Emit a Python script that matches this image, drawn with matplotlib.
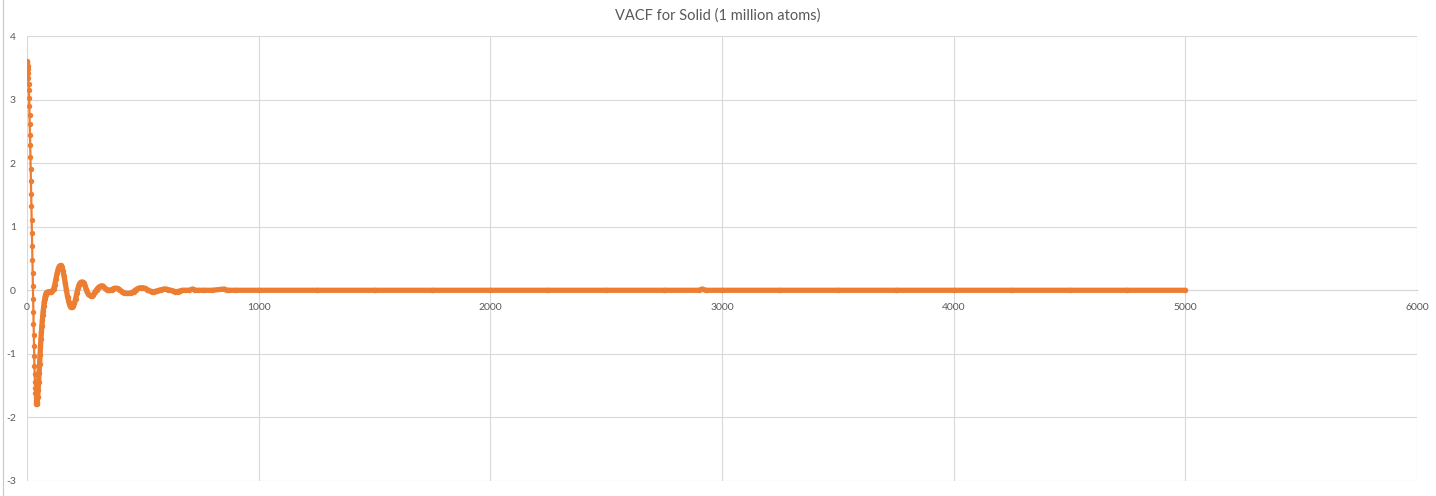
import matplotlib
matplotlib.use("Agg")
import matplotlib.pyplot as plt
from matplotlib.lines import Line2D

plt.rcParams['font.family'] = ['Lato', 'DejaVu Sans']

title = "VACF for Solid (1 million atoms)"
x_ticks = [0, 1000, 2000, 3000, 4000, 5000, 6000]
y_ticks = [-3, -2, -1, 0, 1, 2, 3, 4]

# time lag (steps)
time_lag = [0, 1, 2, 3, 4, 5, 6, 7, 8, 9, 10, 11, 12, 13, 14, 15, 16, 17, 18, 19,
            20, 21, 22, 23, 24, 25, 26, 27, 28, 29, 30, 31, 32, 33, 34, 35, 36, 37, 38, 39,
            40, 41, 42, 43, 44, 46, 48, 50, 52, 54, 56, 58, 60, 62, 64, 66, 68, 70, 72, 74,
            76, 78, 80, 82, 84, 86, 88, 92, 96, 100, 105, 110, 115, 120, 125, 130, 135, 140,
            145, 150, 155, 160, 165, 170, 175, 180, 185, 190, 195, 200, 205, 210, 215, 220,
            225, 230, 235, 240, 245, 250, 255, 260, 265, 270, 275, 280, 285, 290, 295, 300,
            305, 310, 315, 320, 325, 330, 335, 340, 345, 350, 355, 360, 365, 370, 375, 380,
            385, 390, 395, 400, 410, 420, 430, 440, 450, 460, 470, 480, 490, 500, 510, 520,
            530, 540, 550, 560, 570, 580, 590, 600, 610, 620, 630, 640, 650, 660, 670, 680,
            700, 715, 726, 737, 760, 800, 852, 863, 874, 900, 1000, 1250, 1500, 1750, 2000,
            2250, 2500, 2750, 2900, 2915, 2930, 3000, 3250, 3500, 3750, 4000, 4250, 4500,
            4750, 5000]
# velocity autocorrelation function
vacf = [3.60, 3.59, 3.57, 3.53, 3.48, 3.42, 3.34, 3.25, 3.15, 3.03, 2.90, 2.76, 2.61, 2.45,
        2.28, 2.10, 1.91, 1.72, 1.52, 1.32, 1.11, 0.90, 0.69, 0.48, 0.27, 0.06, -0.14, -0.34,
        -0.53, -0.71, -0.88, -1.04, -1.19, -1.32, -1.44, -1.54, -1.62, -1.68, -1.73, -1.76,
        -1.78, -1.79, -1.79, -1.78, -1.76, -1.68, -1.57, -1.44, -1.30, -1.16, -1.02, -0.89,
        -0.77, -0.66, -0.56, -0.47, -0.39, -0.32, -0.25, -0.19, -0.14, -0.10, -0.07, -0.05,
        -0.04, -0.03, -0.03, -0.03, -0.02, -0.02, -0.02, -0.01, 0.02, 0.09, 0.18, 0.27, 0.34,
        0.38, 0.39, 0.37, 0.31, 0.22, 0.11, 0.00, -0.10, -0.18, -0.24, -0.27, -0.27, -0.25,
        -0.20, -0.13, -0.05, 0.03, 0.09, 0.12, 0.13, 0.13, 0.11, 0.07, 0.02, -0.03, -0.06,
        -0.08, -0.09, -0.09, -0.08, -0.05, -0.02, 0.01, 0.03, 0.05, 0.06, 0.07, 0.07, 0.06,
        0.04, 0.02, 0.01, 0.00, 0.00, 0.00, 0.01, 0.02, 0.03, 0.03, 0.03, 0.03, 0.02, 0.00,
        -0.02, -0.04, -0.05, -0.05, -0.04, -0.02, 0.01, 0.03, 0.04, 0.04, 0.03, 0.01, -0.01,
        -0.02, -0.02, -0.01, 0.00, 0.01, 0.02, 0.02, 0.01, 0.00, -0.01, -0.02, -0.02, -0.01,
        0.00, 0.00, 0.00, 0.02, 0.00, 0.00, 0.00, 0.00, 0.02, 0.00, 0.00, 0.00, 0.00, 0.00,
        0.00, 0.00, 0.00, 0.00, 0.00, 0.00, 0.00, 0.02, 0.00, 0.00, 0.00, 0.00, 0.00, 0.00,
        0.00, 0.00, 0.00, 0.00]

orange = '#ED7D31'
grid_c = '#D9D9D9'
text_c = '#595959'

fig = plt.figure(figsize=(14.36, 4.96), dpi=100)
ax = fig.add_axes([27 / 1436, 15 / 496, 1390 / 1436, 445 / 496])

# thick band for the dense part of the series (from the first minimum on)
dense = [i for i, t in enumerate(time_lag) if t >= 44]
ax.plot([time_lag[i] for i in dense], [vacf[i] for i in dense], '-', color=orange,
        lw=3.8, solid_capstyle='round', solid_joinstyle='round', zorder=3)
ax.plot(time_lag, vacf, '-o', color=orange, lw=1.6, ms=3.9, mew=0, zorder=4)

ax.set_xlim(0, 6000)
ax.set_ylim(-3, 4)
ax.set_xticks(x_ticks)
ax.set_yticks(y_ticks)
ax.set_xticklabels([str(v) for v in x_ticks])
ax.set_yticklabels([str(v) for v in y_ticks])
ax.grid(True, color=grid_c, lw=0.8, zorder=0)
for s in ['top', 'right', 'left']:
    ax.spines[s].set_visible(False)
ax.spines['bottom'].set_position(('data', 0))
ax.spines['bottom'].set_color('#BFBFBF')
ax.spines['bottom'].set_linewidth(0.8)
ax.spines['bottom'].set_zorder(1)
ax.tick_params(axis='both', length=0, labelsize=7.5, colors=text_c)
ax.tick_params(axis='x', pad=9)
ax.tick_params(axis='y', pad=8)

fig.text(0.5, 1 - 16 / 496, title, ha='center', va='center', fontsize=10.5, color=text_c)

# chart frame edge visible at left
fig.add_artist(Line2D([3 / 1436, 3 / 1436], [0, 1], color='#C8C8C8', lw=0.8))

fig.savefig('out.png', dpi=100, facecolor='white')
